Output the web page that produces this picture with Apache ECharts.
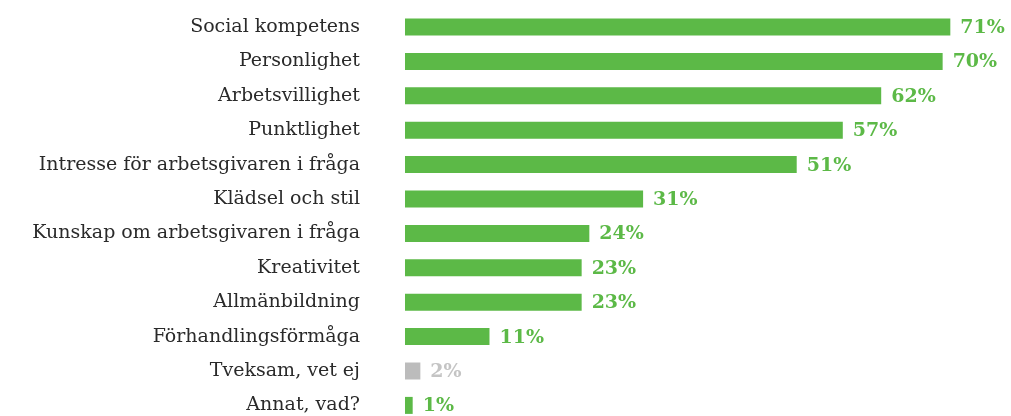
<!DOCTYPE html>
<html>
<head>
<meta charset="utf-8">
<script src="https://cdn.jsdelivr.net/npm/echarts@6/dist/echarts.min.js"></script>
<style>
  html, body { margin: 0; padding: 0; background: #fff; }
  #chart { width: 1011px; height: 416px; }
</style>
</head>
<body>
<div id="chart"></div>
<script>
// 类目 (从上到下)
var categories = [
  "Social kompetens",
  "Personlighet",
  "Arbetsvillighet",
  "Punktlighet",
  "Intresse för arbetsgivaren i fråga",
  "Klädsel och stil",
  "Kunskap om arbetsgivaren i fråga",
  "Kreativitet",
  "Allmänbildning",
  "Förhandlingsförmåga",
  "Tveksam, vet ej",
  "Annat, vad?"
];
var values = [71, 70, 62, 57, 51, 31, 24, 23, 23, 11, 2, 1];
var greyCategories = ["Tveksam, vet ej"];

var green = "#5cb947";
var grey = "#bcbcbc";

var chart = echarts.init(document.getElementById("chart"));

var data = values.map(function (v, i) {
  var isGrey = greyCategories.indexOf(categories[i]) >= 0;
  return {
    value: v,
    itemStyle: { color: isGrey ? grey : green },
    label: { color: isGrey ? "#c4c4c4" : green }
  };
});

var option = {
  animation: false,
  grid: {
    left: 405,
    top: 27,
    right: 0,
    bottom: 10.6,
    containLabel: false
  },
  xAxis: {
    type: "value",
    min: 0,
    max: 78.9,
    show: false
  },
  yAxis: {
    type: "category",
    inverse: true,
    boundaryGap: false, // 首尾类目落在网格边上
    data: categories,
    axisLine: { show: false },
    axisTick: { show: false },
    axisLabel: {
      margin: 45,
      color: "#2a2a2a",
      fontSize: 19,
      fontFamily: "DejaVu Serif"
    }
  },
  series: [
    {
      type: "bar",
      barWidth: 17,
      data: data,
      label: {
        show: true,
        position: "right",
        distance: 10,
        offset: [0, 1],
        formatter: "{c}%",
        fontSize: 19,
        fontWeight: "bold",
        fontFamily: "DejaVu Serif"
      }
    }
  ]
};

chart.setOption(option);
</script>
</body>
</html>
